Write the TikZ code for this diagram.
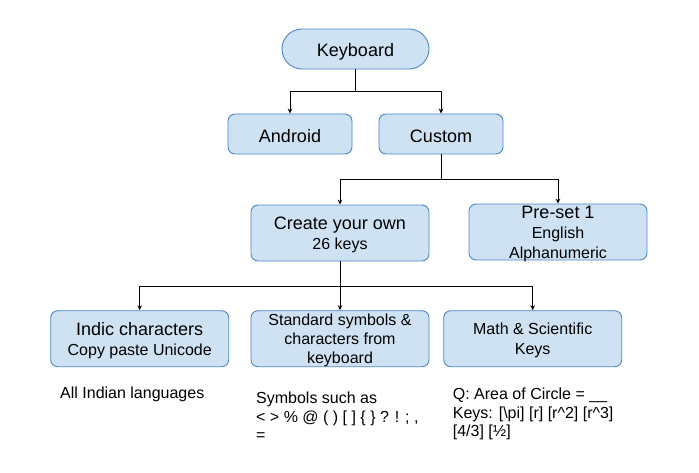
\documentclass[tikz,border=0pt]{standalone}
\usepackage{fontspec}
\setmainfont{Liberation Sans}
\usetikzlibrary{arrows.meta}

\definecolor{boxfill}{HTML}{CFE2F3}
\definecolor{boxline}{HTML}{4A86C8}

\newcommand{\headsize}{\fontsize{18}{20}\selectfont}
\newcommand{\subsize}{\fontsize{16}{20}\selectfont}

\begin{document}
\begin{tikzpicture}[x=1pt, y=-1pt,
    shapebox/.style={draw=boxline, fill=boxfill, line width=0.9pt, rounded corners=7pt,
        inner sep=0pt, align=center},
    box/.style={shapebox, minimum width=178pt, minimum height=56pt, font=\subsize,
        text depth=-6pt},
    topbox/.style={shapebox, minimum width=124pt, minimum height=40pt, font=\headsize,
        execute at begin node={\rule{0pt}{18pt}}},
    wire/.style={line width=1pt},
    link/.style={wire, -{Stealth[length=5pt, width=4.5pt]}},
    note/.style={anchor=west, align=left, inner sep=0pt, font=\fontsize{16}{18.3}\selectfont}]

    \useasboundingbox (0,0) rectangle (699,473);

    % Top rows
    \node[topbox, minimum width=147pt, rounded corners=20pt] (keyboard) at (355.5,49) {Keyboard};
    \node[topbox] (android) at (290,134) {Android};
    \node[topbox] (custom) at (441,134) {Custom};

    \node[box] (create) at (340,233) {{\headsize Create your own}\\26 keys};
    \node[box, text depth=-9pt] (preset) at (558,232) {{\headsize Pre-set 1}\\English\\Alphanumeric};

    % Bottom row
    \node[box] (indic) at (139.7,338.7) {{\headsize Indic characters}\\Copy paste Unicode};
    \node[box, font=\fontsize{16}{19}\selectfont, text depth=-4pt] (standard) at (340,338.7) {Standard symbols \&\\characters from\\keyboard};
    \node[box, text depth=-5pt] (math) at (532.7,338.7) {Math \& Scientific\\Keys};

    % Notes under the boxes
    \node[note] (indicnote) at (60,394.5) {All Indian languages};
    \node[note] (symbolnote) at (256,416.5) {Symbols such as\\< > \% @ ( ) [ ] \{ \} ? ! ; ,\\=};
    \node[note] (mathnote) at (452.7,414) {Q: Area of Circle = \_\_\\Keys: [\textbackslash pi] [r] [r\textasciicircum 2] [r\textasciicircum 3]\\{}[4/3] [½]};

    % Connectors
    \coordinate (split1) at (355.5,92);
    \draw[wire] (keyboard.south) -- (split1);
    \draw[link] (split1) -| (android.north);
    \draw[link] (split1) -| (custom.north);

    \coordinate (split2) at (441,180);
    \draw[wire] (custom.south) -- (split2);
    \draw[link] (split2) -| (create.north);
    \draw[link] (split2) -| (preset.north);

    \coordinate (split3) at (340,286);
    \draw[wire] (create.south) -- (split3);
    \draw[link] (split3) -| (indic.north);
    \draw[link] (split3) -- (standard.north);
    \draw[link] (split3) -| (math.north);
\end{tikzpicture}
\end{document}
